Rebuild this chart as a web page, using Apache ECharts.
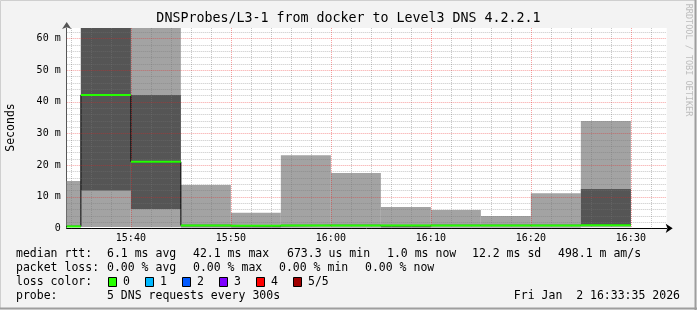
<!DOCTYPE html>
<html><head><meta charset="utf-8">
<script src="https://cdn.jsdelivr.net/npm/echarts@6/dist/echarts.min.js"></script>
<style>html,body{margin:0;padding:0;background:#f3f3f3}#c{width:697px;height:310px}</style>
</head><body><div id="c"></div><script>
// ---- data ----
const slots   = ['15:30','15:35','15:40','15:45','15:50','15:55','16:00','16:05','16:10','16:15','16:20','16:25'];
const slotLen = 5; // minutes per step
const ping1   = [0.3, 0.4, 0.3, 0.2, 0.2, 0.2, 0.2, 0.2, 0.2, 0.2, 0.2, 0.3];
const ping2   = [0.5, 11.9, 6.1, 0.6, 0.3, 0.7, 0.7, 0.3, 0.7, 0.7, 0.7, 0.8];
const median  = [0.6, 42.1, 21.0, 0.9, 0.8, 0.9, 0.9, 0.9, 0.9, 0.9, 0.9, 1.0];
const ping4   = [0.8, 70.0, 42.1, 1.1, 1.0, 1.1, 1.1, 1.0, 1.1, 1.1, 1.1, 12.4];
const ping5   = [14.9, 90.0, 75.0, 13.7, 4.9, 23.1, 17.5, 6.7, 5.8, 3.9, 11.1, 33.9];
const loss    = [0, 0, 0, 0, 0, 0, 0, 0, 0, 0, 0, 0];
const viewStart = '15:33:35', viewEnd = '16:33:35';
const yMax = 63.25;
const xMajorTicks = ['15:40','15:50','16:00','16:10','16:20','16:30'];
const xMinorTicks = ['15:34','15:36','15:38','15:42','15:44','15:46','15:48','15:52','15:54','15:56','15:58',
                     '16:02','16:04','16:06','16:08','16:12','16:14','16:16','16:18','16:22','16:24','16:26','16:28','16:32'];
const yMajorTicks = [0, 10, 20, 30, 40, 50, 60];
const yMinorTicks = [2,4,6,8,12,14,16,18,22,24,26,28,32,34,36,38,42,44,46,48,52,54,56,58,62];
const lossLabels = ['0','1','2','3','4','5/5'];
const lossColors = ['#26ff00','#00b8ff','#0059ff','#7e00ff','#ff0000','#a00000'];
const title = 'DNSProbes/L3-1 from docker to Level3 DNS 4.2.2.1';
const rttStats  = ['6.1 ms avg','42.1 ms max','673.3 us min','1.0 ms now','12.2 ms sd','498.1 m am/s'];
const lossStats = ['0.00 % avg','0.00 % max','0.00 % min','0.00 % now'];
const probeText = '5 DNS requests every 300s';
const stamp = 'Fri Jan  2 16:33:35 2026';

// ---- helpers ----
const toMin = s => { const p = s.split(':').map(Number); return p[0]*60 + p[1] + (p[2]||0)/60; };
const fmt = v => { const h = Math.floor(v/60), m = Math.round(v - h*60); return h + ':' + String(m).padStart(2,'0'); };
const FONT = '"DejaVu Sans Mono", monospace';

const outer = slots.map((s,i) => [toMin(s), toMin(s)+slotLen, ping1[i], ping5[i]]);
const inner = slots.map((s,i) => [toMin(s), toMin(s)+slotLen, ping2[i], ping4[i]]);
const medSeg = slots.map((s,i) => [toMin(s), toMin(s)+slotLen, median[i], loss[i]]);
const stepPts = slots.map((s,i) => [toMin(s), median[i]]).concat([[toMin(slots[slots.length-1])+slotLen, median[median.length-1]]]);

function bandRender(color) {
  return function(params, api) {
    const p0 = api.coord([api.value(0), api.value(3)]);
    const p1 = api.coord([api.value(1), api.value(2)]);
    const cs = params.coordSys;
    const r = echarts.graphic.clipRectByRect({x:p0[0], y:p0[1], width:p1[0]-p0[0], height:p1[1]-p0[1]},
      {x:cs.x, y:cs.y, width:cs.width, height:cs.height});
    if (!r) return;
    return {type:'rect', shape:r, style:{fill:color}};
  };
}
function medRender(params, api) {
  const cs = params.coordSys;
  const a = api.coord([api.value(0), api.value(2)]);
  const b = api.coord([api.value(1), api.value(2)]);
  const x1 = Math.max(a[0], cs.x), x2 = Math.min(b[0], cs.x+cs.width);
  if (x2 <= x1) return;
  return {type:'line', shape:{x1:x1, y1:a[1], x2:x2, y2:b[1]}, style:{stroke:lossColors[api.value(3)], lineWidth:2}};
}
function vGrid(color) {
  return function(params, api) {
    const cs = params.coordSys;
    const x = Math.round(api.coord([api.value(0), 0])[0]) + 0.5;
    return {type:'line', shape:{x1:x, y1:cs.y, x2:x, y2:cs.y+cs.height}, style:{stroke:color, lineWidth:1, lineDash:[1,1]}};
  };
}
function hGrid(color) {
  return function(params, api) {
    const cs = params.coordSys;
    const y = Math.round(api.coord([toMin(viewStart), api.value(0)])[1]) + 0.5;
    return {type:'line', shape:{x1:cs.x, y1:y, x2:cs.x+cs.width, y2:y}, style:{stroke:color, lineWidth:1, lineDash:[1,1]}};
  };
}

const minorC = 'rgba(120,120,120,0.42)', majorC = 'rgba(235,30,30,0.42)';

const graphic = [
  {type:'rect', shape:{x:0.5,y:0.5,width:695,height:308}, style:{fill:null, stroke:'#cfcfcf', lineWidth:1}, z:-1},
  {type:'line', shape:{x1:695.5,y1:0,x2:695.5,y2:310}, style:{stroke:'#9e9e9e', lineWidth:2}},
  {type:'line', shape:{x1:0,y1:308.5,x2:697,y2:308.5}, style:{stroke:'#9e9e9e', lineWidth:2}},
  {type:'text', x:348.5, y:19, style:{text:title, font:'13.3px '+FONT, fill:'#000', align:'center', verticalAlign:'middle'}},
  {type:'text', x:11, y:127.5, rotation:Math.PI/2, style:{text:'Seconds', font:'11.5px '+FONT, fill:'#000', align:'center', verticalAlign:'middle'}},
  {type:'text', x:688, y:60, rotation:-Math.PI/2, style:{text:'RRDTOOL / TOBI OETIKER', font:'8.5px '+FONT, fill:'#bdbdbd', align:'center', verticalAlign:'middle'}}
];
const LF = '11.5px ' + FONT;
const rowY = [254, 268, 282, 296];
const rttX = [107, 193, 287, 387, 472, 558];
const lossX = [107, 193, 279, 365];
graphic.push({type:'text', x:16, y:rowY[0], style:{text:'median rtt:', font:LF, fill:'#000', verticalAlign:'middle'}});
rttStats.forEach((t,i) => graphic.push({type:'text', x:rttX[i], y:rowY[0], style:{text:t, font:LF, fill:'#000', verticalAlign:'middle'}}));
graphic.push({type:'text', x:16, y:rowY[1], style:{text:'packet loss:', font:LF, fill:'#000', verticalAlign:'middle'}});
lossStats.forEach((t,i) => graphic.push({type:'text', x:lossX[i], y:rowY[1], style:{text:t, font:LF, fill:'#000', verticalAlign:'middle'}}));
graphic.push({type:'text', x:16, y:rowY[2], style:{text:'loss color:', font:LF, fill:'#000', verticalAlign:'middle'}});
lossLabels.forEach((t,i) => {
  const bx = 108.5 + i*37;
  graphic.push({type:'rect', shape:{x:bx, y:277.5, width:8, height:9}, style:{fill:lossColors[i], stroke:'#000', lineWidth:1}});
  graphic.push({type:'text', x:bx+14.5, y:rowY[2], style:{text:t, font:LF, fill:'#000', verticalAlign:'middle'}});
});
graphic.push({type:'text', x:16, y:rowY[3], style:{text:'probe:', font:LF, fill:'#000', verticalAlign:'middle'}});
graphic.push({type:'text', x:107, y:rowY[3], style:{text:probeText, font:LF, fill:'#000', verticalAlign:'middle'}});
graphic.push({type:'text', x:680, y:rowY[3], style:{text:stamp, font:LF, fill:'#000', align:'right', verticalAlign:'middle'}});

const chart = echarts.init(document.getElementById('c'), null, {renderer:'canvas'});
chart.setOption({
  backgroundColor:'#f3f3f3',
  animation:false,
  grid:{left:66.7, right:30.3, top:28, bottom:81.7, show:true, backgroundColor:'#ffffff', borderWidth:0},
  xAxis:{
    type:'value', min:toMin(viewStart), max:toMin(viewEnd),
    splitLine:{show:false},
    axisLine:{show:true, onZero:false, lineStyle:{color:'#000', width:1}, symbol:['none','arrow'], symbolSize:[7,7], symbolOffset:[0,6]},
    axisTick:{show:false, customValues:xMajorTicks.map(toMin)},
    axisLabel:{customValues:xMajorTicks.map(toMin), formatter:v=>fmt(v), fontFamily:'DejaVu Sans Mono', fontSize:10, color:'#000', margin:5, showMinLabel:true, showMaxLabel:true}
  },
  yAxis:{
    type:'value', min:0, max:yMax, interval:10,
    splitLine:{show:false},
    axisLine:{show:true, lineStyle:{color:'#555', width:1}, symbol:['none','arrow'], symbolSize:[7,7], symbolOffset:[0,6]},
    axisTick:{show:false},
    axisLabel:{formatter:v => v===0 ? '0' : (v%10===0 ? v+' m' : ''), fontFamily:'DejaVu Sans Mono', fontSize:10, color:'#000', margin:6, showMaxLabel:false}
  },
  series:[
    {type:'custom', z:1, clip:true, renderItem:bandRender('#a3a3a3'), data:outer, silent:true},
    {type:'custom', z:2, clip:true, renderItem:bandRender('#555555'), data:inner, silent:true},
    {type:'line', z:3, step:'end', data:stepPts, showSymbol:false, lineStyle:{color:'#000', width:1}, silent:true},
    {type:'custom', z:4, renderItem:vGrid(minorC), data:xMinorTicks.map(t=>[toMin(t)]), silent:true},
    {type:'custom', z:4, renderItem:hGrid(minorC), data:yMinorTicks.map(v=>[v]), silent:true},
    {type:'custom', z:5, renderItem:vGrid(majorC), data:xMajorTicks.map(t=>[toMin(t)]), silent:true},
    {type:'custom', z:5, renderItem:hGrid(majorC), data:yMajorTicks.filter(v=>v>0).map(v=>[v]), silent:true},
    {type:'custom', z:6, renderItem:medRender, data:medSeg, silent:true}
  ],
  graphic:graphic
});
</script></body></html>
